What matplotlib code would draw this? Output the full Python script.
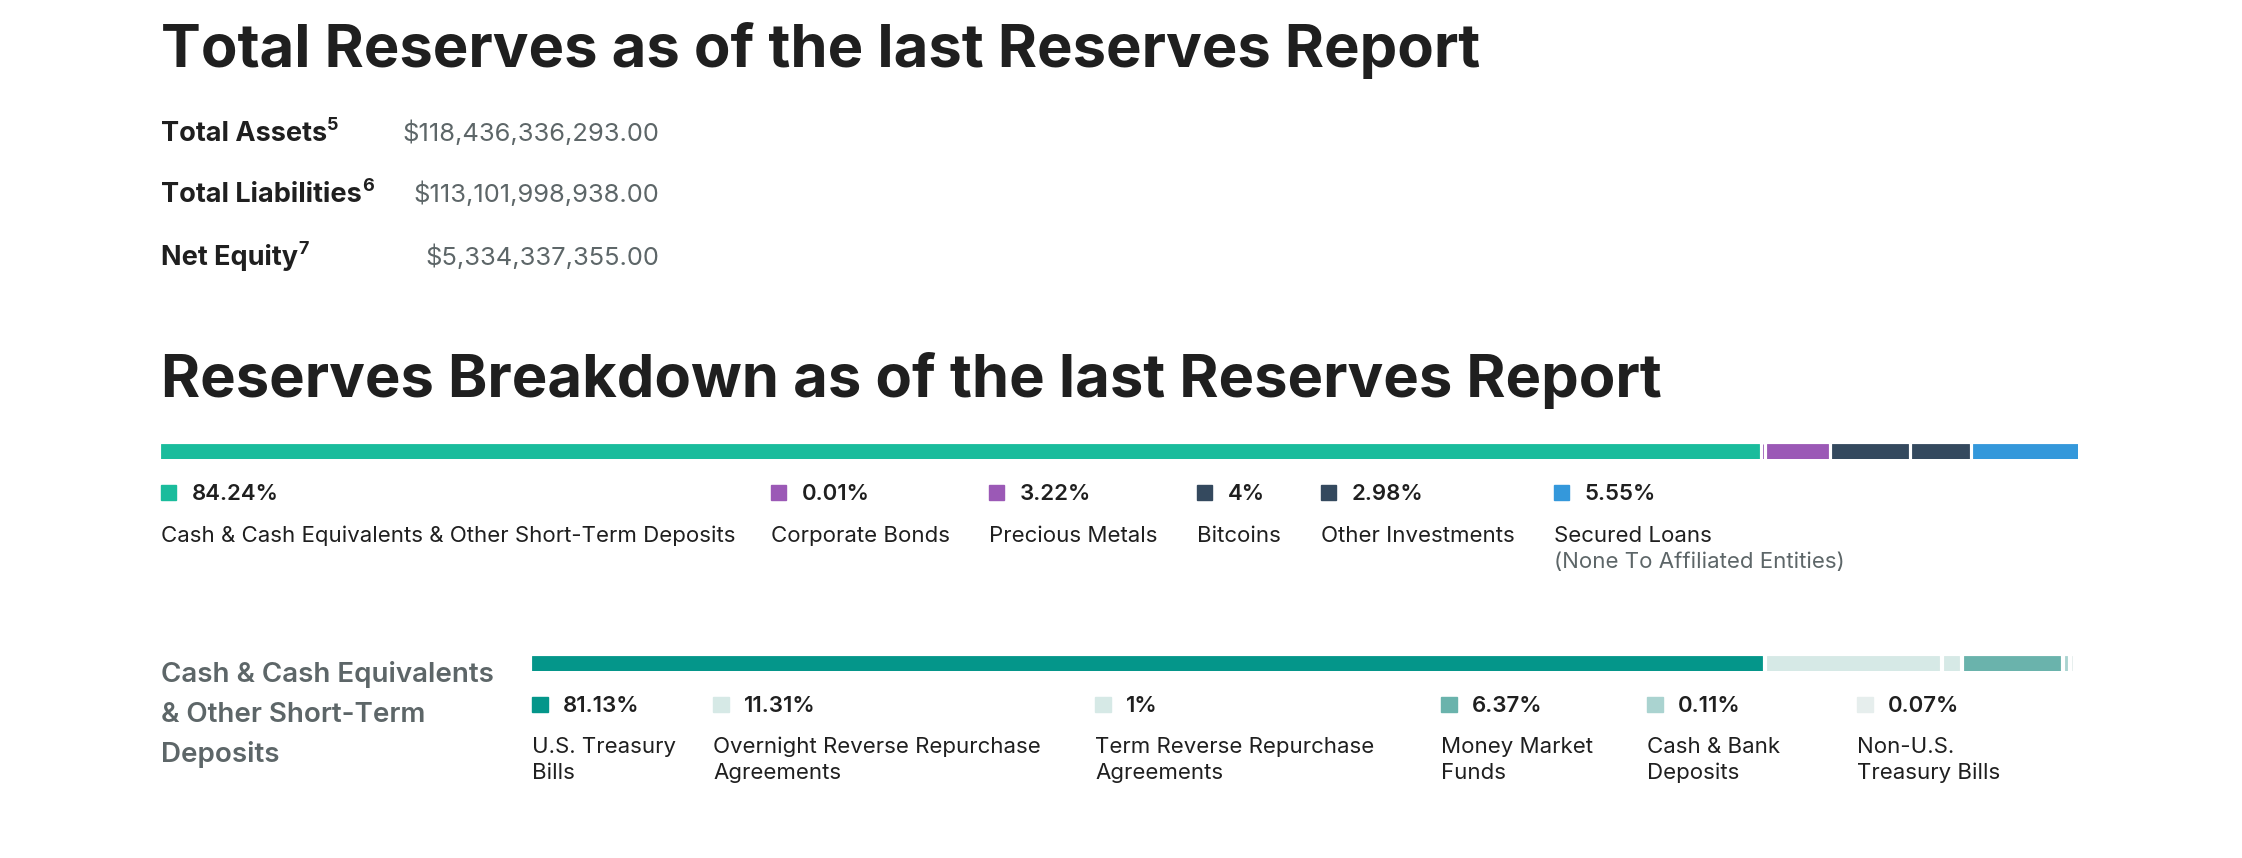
import matplotlib.pyplot as plt
import numpy as np

plt.rcParams['font.family'] = ['Inter', 'DejaVu Sans']

W, H = 2242, 858

# ---- data ----
summary_labels = ['Total Assets', 'Total Liabilities', 'Net Equity']
summary_notes = ['5', '6', '7']
summary_values = ['$118,436,336,293.00', '$113,101,998,938.00', '$5,334,337,355.00']

reserve_cats = ['Cash & Cash Equivalents & Other Short-Term Deposits', 'Corporate Bonds',
                'Precious Metals', 'Bitcoins', 'Other Investments', 'Secured Loans']
reserve_sub = ['', '', '', '', '', '(None To Affiliated Entities)']
reserve_pct = [84.24, 0.01, 3.22, 4, 2.98, 5.55]
reserve_colors = ['#1abc9c', '#9b59b6', '#9b59b6', '#34495e', '#34495e', '#3498db']

cash_cats = ['U.S. Treasury\nBills', 'Overnight Reverse Repurchase\nAgreements',
             'Term Reverse Repurchase\nAgreements', 'Money Market\nFunds',
             'Cash & Bank\nDeposits', 'Non-U.S.\nTreasury Bills']
cash_pct = [81.13, 11.31, 1, 6.37, 0.11, 0.07]
cash_colors = ['#04968a', '#d6e9e6', '#d6e9e6', '#6ab3ac', '#aad3d0', '#e6eeed']

DARK = '#1f1f1f'
GREY = '#5d6668'


def fx(x):
    return x / W


def fy(y):
    return 1 - y / H


def fmt_pct(v):
    return ('%g' % v) + '%'


fig = plt.figure(figsize=(W / 100, H / 100), dpi=100)
fig.patch.set_facecolor('white')
renderer = fig.canvas.get_renderer()

# ---- headline block ----
fig.text(fx(161), fy(67), 'Total Reserves as of the last Reserves Report',
         fontsize=43, fontweight='bold', color=DARK, va='baseline')

row_base = [141, 202, 265]
for lab, note, val, yb in zip(summary_labels, summary_notes, summary_values, row_base):
    t = fig.text(fx(161), fy(yb), lab, fontsize=19.5, fontweight='bold',
                 color=DARK, va='baseline')
    bb = t.get_window_extent(renderer)
    fig.text(bb.x1 / W, fy(yb - 11), note, fontsize=13,
             fontweight='bold', color=DARK, va='baseline')
    fig.text(fx(659), fy(yb), val, fontsize=18.4, color=GREY, va='baseline', ha='right')

fig.text(fx(161), fy(397), 'Reserves Breakdown as of the last Reserves Report',
         fontsize=43, fontweight='bold', color=DARK, va='baseline')


def stacked_bar(rect, values, colors, gap_px):
    ax = fig.add_axes(rect)
    width_px = rect[2] * W
    n = len(values)
    scale = (width_px - gap_px * (n - 1)) / sum(values)
    gap = gap_px / scale
    lefts = np.concatenate([[0], np.cumsum(np.array(values) + gap)[:-1]])
    ax.barh(0, values, left=lefts, height=1, color=colors,
            edgecolor=colors, linewidth=0.6)
    ax.set_xlim(0, sum(values) + gap * (n - 1))
    ax.set_ylim(-0.5, 0.5)
    ax.axis('off')
    return ax


# ---- reserves breakdown bar ----
stacked_bar([fx(161), fy(459), (2078 - 161) / W, 15 / H], reserve_pct, reserve_colors, 4)

res_x = [161, 771, 989, 1197, 1321, 1554]
for x, cat, sub, p, c in zip(res_x, reserve_cats, reserve_sub, reserve_pct, reserve_colors):
    fig.patches.append(plt.Rectangle((fx(x), fy(500)), 15 / W, 15 / H,
                                     transform=fig.transFigure, color=c))
    fig.text(fx(x + 31), fy(500), fmt_pct(p), fontsize=16, fontweight='semibold',
             color=DARK, va='baseline')
    fig.text(fx(x), fy(542), cat, fontsize=16, color=DARK, va='baseline')
    if sub:
        fig.text(fx(x), fy(568), sub, fontsize=16, color=GREY, va='baseline')

# ---- cash breakdown ----
for line, yb in zip(['Cash & Cash Equivalents', '& Other Short-Term', 'Deposits'],
                    [682, 722, 762]):
    fig.text(fx(161), fy(yb), line, fontsize=20, fontweight='semibold',
             color=GREY, va='baseline')

stacked_bar([fx(532), fy(671), (2073 - 532) / W, 15 / H], cash_pct, cash_colors, 5)

cash_x = [532, 713, 1095, 1441, 1647, 1857]
for x, cat, p, c in zip(cash_x, cash_cats, cash_pct, cash_colors):
    fig.patches.append(plt.Rectangle((fx(x), fy(712)), 16 / W, 15 / H,
                                     transform=fig.transFigure, color=c))
    fig.text(fx(x + 31), fy(712), fmt_pct(p), fontsize=16, fontweight='semibold',
             color=DARK, va='baseline')
    l1, l2 = cat.split('\n')
    fig.text(fx(x), fy(753), l1, fontsize=16, color=DARK, va='baseline')
    fig.text(fx(x), fy(779), l2, fontsize=16, color=DARK, va='baseline')

fig.savefig('out.png', dpi=100, facecolor='white')
